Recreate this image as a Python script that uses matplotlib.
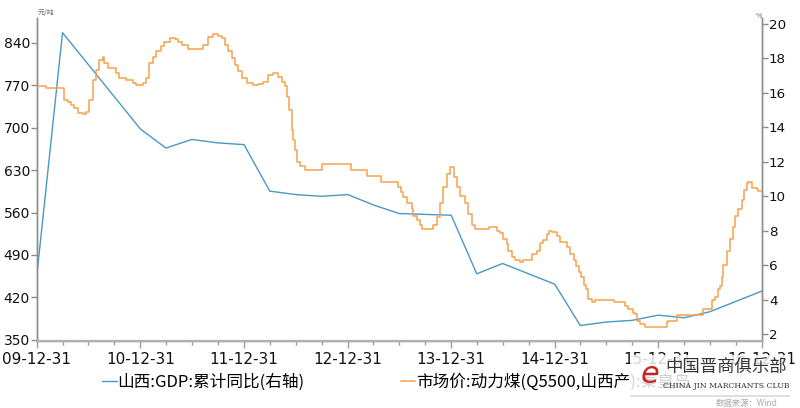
import matplotlib
matplotlib.use('Agg')
import matplotlib.pyplot as plt
import matplotlib.dates as mdates
import pandas as pd
from matplotlib.ticker import FixedLocator
from matplotlib.patches import Rectangle

plt.rcParams['font.family'] = ['Noto Sans CJK SC', 'DejaVu Sans']

# ---------------- data ----------------
gdp_dates = ['2009-12-31', '2010-03-31', '2010-12-31', '2011-03-31', '2011-06-30',
             '2011-09-30', '2011-12-31', '2012-03-31', '2012-06-30', '2012-09-30',
             '2012-12-31', '2013-03-31', '2013-06-30', '2013-09-30', '2013-12-31',
             '2014-03-31', '2014-06-30', '2014-09-30', '2014-12-31', '2015-03-31',
             '2015-06-30', '2015-09-30', '2015-12-31', '2016-03-31', '2016-06-30',
             '2016-09-30', '2016-12-31']
gdp_values = [5.5, 19.5, 13.9, 12.8, 13.3, 13.1, 13.0, 10.3, 10.1, 10.0,
              10.1, 9.5, 9.0, 8.95, 8.9, 5.5, 6.1, 5.5, 4.9, 2.5,
              2.7, 2.8, 3.1, 2.95, 3.3, 3.9, 4.5]

coal_dates = ['2009-12-31', '2010-01-28', '2010-02-01', '2010-03-26', '2010-04-05',
              '2010-04-19', '2010-04-30', '2010-05-10', '2010-05-25', '2010-06-11',
              '2010-06-22', '2010-07-02', '2010-07-16', '2010-07-27', '2010-08-07',
              '2010-08-21', '2010-08-24', '2010-09-07', '2010-10-06', '2010-10-16',
              '2010-11-10', '2010-12-04', '2010-12-15', '2011-01-09', '2011-01-19',
              '2011-01-30', '2011-02-13', '2011-02-24', '2011-03-13', '2011-03-24',
              '2011-04-14', '2011-05-02', '2011-05-12', '2011-05-26', '2011-06-16',
              '2011-07-29', '2011-08-08', '2011-08-26', '2011-09-13', '2011-09-30',
              '2011-10-14', '2011-10-25', '2011-11-04', '2011-11-19', '2011-11-29',
              '2011-12-10', '2011-12-24', '2012-01-10', '2012-02-01', '2012-02-18',
              '2012-03-07', '2012-03-25', '2012-04-11', '2012-04-29', '2012-05-13',
              '2012-05-23', '2012-05-30', '2012-06-07', '2012-06-17', '2012-06-21',
              '2012-06-28', '2012-07-05', '2012-07-15', '2012-08-02', '2012-10-01',
              '2013-01-11', '2013-03-09', '2013-04-27', '2013-06-26', '2013-07-06',
              '2013-07-14', '2013-07-28', '2013-08-14', '2013-08-18', '2013-09-01',
              '2013-09-11', '2013-09-18', '2013-10-27', '2013-11-10', '2013-11-21',
              '2013-12-02', '2013-12-16', '2013-12-26', '2014-01-09', '2014-01-20',
              '2014-01-31', '2014-02-17', '2014-02-28', '2014-03-14', '2014-03-24',
              '2014-05-13', '2014-06-10', '2014-06-21', '2014-07-01', '2014-07-15',
              '2014-07-19', '2014-08-02', '2014-08-12', '2014-08-30', '2014-09-10',
              '2014-10-11', '2014-10-29', '2014-11-09', '2014-11-19', '2014-12-03',
              '2014-12-10', '2014-12-21', '2015-01-08', '2015-01-18', '2015-02-12',
              '2015-02-22', '2015-03-08', '2015-03-15', '2015-03-27', '2015-04-03',
              '2015-04-13', '2015-04-20', '2015-04-27', '2015-05-11', '2015-05-22',
              '2015-07-27', '2015-09-04', '2015-09-15', '2015-10-02', '2015-10-10',
              '2015-10-17', '2015-10-27', '2015-11-14', '2016-01-30', '2016-02-03',
              '2016-03-06', '2016-06-05', '2016-07-07', '2016-07-18', '2016-07-28',
              '2016-08-04', '2016-08-11', '2016-08-15', '2016-08-29', '2016-09-09',
              '2016-09-19', '2016-09-26', '2016-10-07', '2016-10-21', '2016-10-28',
              '2016-11-07', '2016-11-11', '2016-11-25', '2016-12-13', '2016-12-16',
              '2016-12-31']
coal_values = [769, 769, 766, 766, 746,
               743, 737, 732, 725, 722,
               726, 746, 779, 795, 812,
               816, 807, 799, 790, 782,
               779, 774, 770, 773, 782,
               807, 817, 826, 834, 842,
               848, 847, 842, 837, 830,
               830, 837, 850, 854, 852,
               848, 837, 826, 815, 804,
               793, 782, 774, 770, 772,
               776, 787, 791, 784, 776,
               768, 751, 729, 696, 679,
               663, 644, 636, 631, 640,
               631, 621, 610, 602, 594,
               586, 575, 566, 555, 547,
               540, 532, 540, 552, 575,
               602, 624, 635, 619, 602,
               588, 575, 558, 539, 532,
               536, 530, 526, 517, 508,
               497, 486, 481, 478, 481,
               492, 497, 510, 514, 525,
               530, 528, 522, 511, 503,
               492, 481, 472, 462, 453,
               440, 434, 417, 412, 416,
               412, 405, 401, 395, 392,
               381, 376, 371, 379, 381,
               391, 400, 415, 420, 434,
               439, 453, 473, 497, 517,
               536, 555, 566, 580, 597,
               608, 610, 601, 599, 595,
               595]

year_ticks = ['2009-12-31', '2010-12-31', '2011-12-31', '2012-12-31',
              '2013-12-31', '2014-12-31', '2015-12-31', '2016-12-31']
year_labels = ['09-12-31', '10-12-31', '11-12-31', '12-12-31',
               '13-12-31', '14-12-31', '15-12-31', '16-12-31']
left_ticks = [350, 420, 490, 560, 630, 700, 770, 840]
right_ticks = [2, 4, 6, 8, 10, 12, 14, 16, 18, 20]

label_gdp = '山西:GDP:累计同比(右轴)'
label_coal = '市场价:动力煤(Q5500,山西产):秦皇岛'

# ---------------- styling ----------------
c_blue = '#4b97c6'
c_orange = '#f7a24a'
c_axis = '#8c8c8c'

fig = plt.figure(figsize=(8.0, 4.08), dpi=100)
ax = fig.add_axes([0.04625, 0.1642, 0.90625, 0.7917])
ax2 = ax.twinx()

cd = pd.to_datetime(coal_dates)
gd = pd.to_datetime(gdp_dates)

l1, = ax2.plot(gd, gdp_values, color=c_blue, lw=1.0, label=label_gdp, zorder=2)
l2, = ax.plot(cd, coal_values, color=c_orange, lw=1.1, drawstyle='steps-post',
              label=label_coal, zorder=3)
ax.set_zorder(ax2.get_zorder() + 1)
ax.patch.set_visible(False)

ax.set_xlim(pd.Timestamp('2009-12-31'), pd.Timestamp('2016-12-31'))
ax.set_ylim(348, 881)
ax2.set_ylim(1.6, 20.35)

ax.xaxis.set_major_locator(FixedLocator(mdates.date2num(pd.to_datetime(year_ticks))))
ax.set_xticklabels(year_labels)
qends = pd.date_range('2009-12-31', '2016-12-31', freq='QE')
ax.xaxis.set_minor_locator(FixedLocator(mdates.date2num(qends)))

ax.set_yticks(left_ticks)
ax.set_yticklabels([str(v) for v in left_ticks])
ax2.set_yticks(right_ticks)
ax2.set_yticklabels([str(v) for v in right_ticks])

for a in (ax, ax2):
    a.spines['top'].set_visible(False)
    for s in ('left', 'right', 'bottom'):
        a.spines[s].set_color(c_axis)
        a.spines[s].set_linewidth(1.0)
ax.spines['bottom'].set_color('#b0b0b0')
ax.spines['bottom'].set_linewidth(1.6)

ax.tick_params(axis='x', which='major', direction='out', length=5, width=1,
               color='#a0a0a0', labelsize=11, pad=3)
ax.tick_params(axis='x', which='minor', direction='out', length=3, width=1,
               color='#a0a0a0')
ax.tick_params(axis='y', direction='out', length=4, width=1, color=c_axis,
               labelsize=10, pad=1)
ax2.tick_params(axis='y', direction='out', length=4, width=1, color=c_axis,
                labelsize=9.7, pad=1)
for lab in ax.get_xticklabels() + ax.get_yticklabels() + ax2.get_yticklabels():
    lab.set_fontfamily('DejaVu Sans')
    lab.set_color('#111111')

fig.text(0.0475, 0.958, '元/吨', fontsize=5, color='#666666', ha='left', va='bottom')
fig.text(0.945, 0.952, '%', fontsize=5, color='#666666', ha='left', va='bottom')

leg = fig.legend([l1, l2], [label_gdp, label_coal], ncol=2, loc='center left',
                 bbox_to_anchor=(0.128, 0.064), frameon=False, fontsize=12,
                 handlelength=0.85, handletextpad=0.05, columnspacing=5.8,
                 borderaxespad=0, borderpad=0)

# watermark (semi-transparent white panel with logo text)
panel = Rectangle((0.7875, 0.032), 0.2, 0.098, transform=fig.transFigure,
                  facecolor='white', edgecolor='none', alpha=0.82, zorder=6)
fig.patches.append(panel)
shadow = Rectangle((0.7875, 0.027), 0.2, 0.006, transform=fig.transFigure,
                   facecolor='#d8d8d8', edgecolor='none', alpha=0.8, zorder=6)
fig.patches.append(shadow)
fig.text(0.8125, 0.082, 'e', fontsize=22, color='#cc2222', style='italic',
         fontfamily='DejaVu Sans', ha='center', va='center', zorder=7)
fig.text(0.9075, 0.100, '中国晋商俱乐部', fontsize=12.5, color='#333333',
         ha='center', va='center', zorder=7)
fig.text(0.9075, 0.055, 'CHINA JIN MARCHANTS CLUB', fontsize=5.6, color='#333333',
         fontfamily='DejaVu Serif', ha='center', va='center', zorder=7)
fig.text(0.9725, 0.012, '数据来源：Wind', fontsize=6, color='#aaaaaa',
         ha='right', va='center', zorder=8)

fig.savefig('out.png', dpi=100)
